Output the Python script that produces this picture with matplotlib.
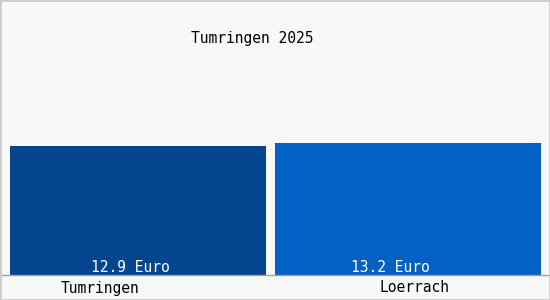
import matplotlib.pyplot as plt
from matplotlib.patches import Rectangle

plt.rcParams['font.family'] = 'DejaVu Sans Mono'

title = 'Tumringen 2025'
places = ['Tumringen', 'Loerrach']
prices = [12.9, 13.2]
colors = ['#03468f', '#0560c4']

fig = plt.figure(figsize=(5.5, 3), dpi=100, facecolor='#f8f8f8')
ax = fig.add_axes([0, 0, 1, 1])
ax.set_facecolor('#f8f8f8')

x = [0, 1]
ax.bar(x, prices, width=[0.948, 0.985], color=colors, zorder=2)
ax.set_xlim(-0.511, 1.526)
ax.set_ylim(-2.5, 27.5)
ax.axhline(0, color='#a0a0a0', lw=1, zorder=3)

# value labels inside bars, category labels below
for i, (p, n) in enumerate(zip(prices, places)):
    ax.annotate(f'{p:.1f} Euro', (x[i], 0), xytext=(-8 - 10 * i, 7),
                textcoords='offset pixels', ha='center', va='center',
                color='white', fontsize=10.5, zorder=4)
ax.annotate(places[0], (x[0], 0), xytext=(-38, -13), textcoords='offset pixels',
            ha='center', va='center', fontsize=10.5)
ax.annotate(places[1], (x[1], 0), xytext=(7, -13), textcoords='offset pixels',
            ha='center', va='center', fontsize=10.5)

fig.text(252 / 550, 1 - 38 / 300, title, ha='center', va='center', fontsize=10.5)

ax.axis('off')
fig.patches.append(Rectangle((0, 0), 1, 1, transform=fig.transFigure, fill=False,
                             edgecolor='#cccccc', lw=2))

fig.savefig('out.png', dpi=100, facecolor=fig.get_facecolor())
